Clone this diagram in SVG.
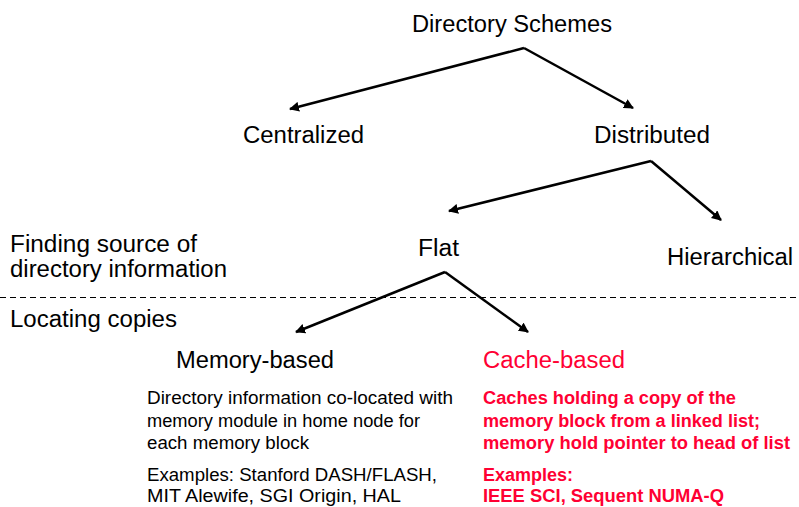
<svg xmlns="http://www.w3.org/2000/svg" width="799" height="507" viewBox="0 0 799 507">
<defs>
<marker id="ah" viewBox="0 0 10 10" refX="9" refY="5" markerWidth="4" markerHeight="4" orient="auto" markerUnits="strokeWidth">
<path d="M0,0 L10,5 L0,10 Z" fill="#000"/>
</marker>
<style>
text{font-family:"Liberation Sans",Arial,sans-serif;fill:#000}
.t{font-size:23px}
.b{font-size:17.5px}
.r{fill:#ff0033}
.rb{font-size:17.5px;font-weight:bold;fill:#ff0033}
.c{stroke:#000;stroke-width:2.5;fill:none;marker-end:url(#ah)}
</style>
</defs>
<rect width="799" height="507" fill="#fff"/>
<g id="connectors">
<line class="c" x1="524" y1="48" x2="290" y2="109"/>
<line class="c" x1="524" y1="48" x2="633" y2="108"/>
<line class="c" x1="651" y1="161" x2="449" y2="211"/>
<line class="c" x1="651" y1="161" x2="721" y2="220"/>
<line class="c" x1="445" y1="272" x2="296" y2="332"/>
<line class="c" x1="445" y1="272" x2="528" y2="332"/>
</g>
<line x1="0" y1="297.5" x2="799" y2="297.5" stroke="#000" stroke-width="1" stroke-dasharray="6,4"/>
<g id="root"><text class="t" x="412" y="32" textLength="200" lengthAdjust="spacingAndGlyphs">Directory Schemes</text></g>
<g id="centralized"><text class="t" x="243" y="143" textLength="121" lengthAdjust="spacingAndGlyphs">Centralized</text></g>
<g id="distributed"><text class="t" x="594" y="143" textLength="116" lengthAdjust="spacingAndGlyphs">Distributed</text></g>
<g id="label-finding"><text class="t" x="10" y="252" textLength="187" lengthAdjust="spacingAndGlyphs">Finding source of</text><text class="t" x="10" y="277" textLength="217" lengthAdjust="spacingAndGlyphs">directory information</text></g>
<g id="flat"><text class="t" x="418" y="256" textLength="41" lengthAdjust="spacingAndGlyphs">Flat</text></g>
<g id="hierarchical"><text class="t" x="667" y="265" textLength="126" lengthAdjust="spacingAndGlyphs">Hierarchical</text></g>
<g id="label-locating"><text class="t" x="10" y="327" textLength="167" lengthAdjust="spacingAndGlyphs">Locating copies</text></g>
<g id="memory-based">
<text class="t" x="176" y="368" textLength="158" lengthAdjust="spacingAndGlyphs">Memory-based</text>
<text class="b" x="147" y="404" textLength="306" lengthAdjust="spacingAndGlyphs">Directory information co-located with</text>
<text class="b" x="147" y="427" textLength="273" lengthAdjust="spacingAndGlyphs">memory module in home node for</text>
<text class="b" x="147" y="449" textLength="162" lengthAdjust="spacingAndGlyphs">each memory block</text>
<text class="b" x="147" y="481" textLength="290" lengthAdjust="spacingAndGlyphs">Examples: Stanford DASH/FLASH,</text>
<text class="b" x="147" y="502" textLength="254" lengthAdjust="spacingAndGlyphs">MIT Alewife, SGI Origin, HAL</text>
</g>
<g id="cache-based">
<text class="t r" x="483" y="368" textLength="142" lengthAdjust="spacingAndGlyphs">Cache-based</text>
<text class="rb" x="483" y="404" textLength="253" lengthAdjust="spacingAndGlyphs">Caches holding a copy of the</text>
<text class="rb" x="483" y="427" textLength="277" lengthAdjust="spacingAndGlyphs">memory block from a linked list;</text>
<text class="rb" x="483" y="449" textLength="307" lengthAdjust="spacingAndGlyphs">memory hold pointer to head of list</text>
<text class="rb" x="483" y="481" textLength="90" lengthAdjust="spacingAndGlyphs">Examples:</text>
<text class="rb" x="483" y="502" textLength="241" lengthAdjust="spacingAndGlyphs">IEEE SCI, Sequent NUMA-Q</text>
</g>
</svg>
